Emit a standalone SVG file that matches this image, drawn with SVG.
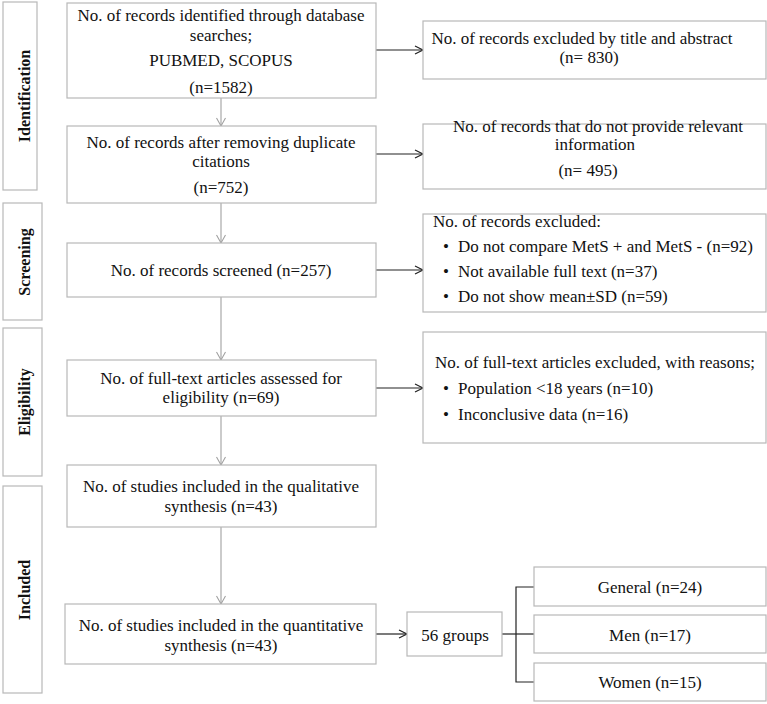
<svg xmlns="http://www.w3.org/2000/svg" width="767" height="704" viewBox="0 0 767 704">
<defs>
<style>
.box{fill:#ffffff;stroke:#b8b8b8;stroke-width:1.2}
.t{font-family:"Liberation Serif","Times New Roman",serif;font-size:17px;fill:#111}
.m{text-anchor:middle}
.lbl{font-family:"Liberation Serif","Times New Roman",serif;font-size:16px;font-weight:bold;fill:#111;text-anchor:middle}
.va{stroke:#a0a0a0;stroke-width:1.1;fill:none}
.ha{stroke:#222;stroke-width:1.2;fill:none}
</style>
<marker id="ag" markerWidth="12" markerHeight="12" refX="9" refY="5" orient="auto" markerUnits="userSpaceOnUse">
<path d="M1,0.5 L9,5 L1,9.5" fill="none" stroke="#a0a0a0" stroke-width="1.1"/>
</marker>
<marker id="ad" markerWidth="12" markerHeight="12" refX="9" refY="5" orient="auto" markerUnits="userSpaceOnUse">
<path d="M1,1 L9,5 L1,9" fill="none" stroke="#222" stroke-width="1.2"/>
</marker>
</defs>
<rect width="767" height="704" fill="#ffffff"/>

<g id="stage-identification">
<rect class="box" x="3" y="2" width="34" height="188"/>
<text class="lbl" transform="translate(30,96) rotate(-90)">Identification</text>
</g>
<g id="stage-screening">
<rect class="box" x="3" y="203" width="39" height="117"/>
<text class="lbl" transform="translate(30,262) rotate(-90)">Screening</text>
</g>
<g id="stage-eligibility">
<rect class="box" x="3" y="328" width="39" height="148"/>
<text class="lbl" transform="translate(30,402) rotate(-90)">Eligibility</text>
</g>
<g id="stage-included">
<rect class="box" x="3" y="486" width="39" height="207"/>
<text class="lbl" transform="translate(30,590) rotate(-90)">Included</text>
</g>

<g id="connectors">
<line class="va" x1="221" y1="98" x2="221" y2="126" marker-end="url(#ag)"/>
<line class="va" x1="221" y1="203" x2="221" y2="243" marker-end="url(#ag)"/>
<line class="va" x1="221" y1="297" x2="221" y2="360" marker-end="url(#ag)"/>
<line class="va" x1="221" y1="416" x2="221" y2="465" marker-end="url(#ag)"/>
<line class="va" x1="221" y1="527" x2="221" y2="604" marker-end="url(#ag)"/>
<line class="ha" x1="376" y1="50" x2="423" y2="50" marker-end="url(#ad)"/>
<line class="ha" x1="376" y1="154" x2="423" y2="154" marker-end="url(#ad)"/>
<line class="ha" x1="376" y1="270" x2="423" y2="270" marker-end="url(#ad)"/>
<line class="ha" x1="376" y1="388" x2="423" y2="388" marker-end="url(#ad)"/>
<line class="ha" x1="376" y1="634" x2="407" y2="634" marker-end="url(#ad)"/>
<line class="ha" x1="502" y1="634" x2="534" y2="634"/>
<path class="ha" d="M534,587 H516 V682 H534"/>
</g>

<g id="n-identified">
<rect class="box" x="67" y="3" width="309" height="95"/>
<text class="t m" x="221" y="21">No. of records identified through database</text>
<text class="t m" x="221" y="41">searches;</text>
<text class="t m" x="221" y="66">PUBMED, SCOPUS</text>
<text class="t m" x="221" y="93">(n=1582)</text>
</g>
<g id="n-duplicates">
<rect class="box" x="67" y="126" width="309" height="77"/>
<text class="t m" x="221" y="148">No. of records after removing duplicate</text>
<text class="t m" x="221" y="167">citations</text>
<text class="t m" x="221" y="193">(n=752)</text>
</g>
<g id="n-screened">
<rect class="box" x="67" y="243" width="309" height="54"/>
<text class="t m" x="221" y="276">No. of records screened (n=257)</text>
</g>
<g id="n-fulltext">
<rect class="box" x="67" y="360" width="309" height="56"/>
<text class="t m" x="221" y="384">No. of full-text articles assessed for</text>
<text class="t m" x="221" y="403">eligibility (n=69)</text>
</g>
<g id="n-qualitative">
<rect class="box" x="67" y="465" width="309" height="62"/>
<text class="t m" x="221" y="492">No. of studies included in the qualitative</text>
<text class="t m" x="221" y="512">synthesis (n=43)</text>
</g>
<g id="n-quantitative">
<rect class="box" x="65" y="604" width="311" height="60"/>
<text class="t m" x="221" y="631">No. of studies included in the quantitative</text>
<text class="t m" x="221" y="651">synthesis (n=43)</text>
</g>

<g id="x-title-abstract">
<rect class="box" x="423" y="21" width="343" height="58"/>
<text class="t m" x="582" y="44">No. of records excluded by title and abstract</text>
<text class="t m" x="589" y="63">(n= 830)</text>
</g>
<g id="x-relevant">
<rect class="box" x="423" y="124" width="343" height="65"/>
<text class="t m" x="598" y="132">No. of records that do not provide relevant</text>
<text class="t m" x="595" y="150">information</text>
<text class="t m" x="588" y="176">(n= 495)</text>
</g>
<g id="x-screened">
<rect class="box" x="423" y="214" width="343" height="98"/>
<text class="t" x="433" y="227">No. of records excluded:</text>
<text class="t" x="443" y="252">•</text>
<text class="t" x="458" y="252">Do not compare MetS + and MetS - (n=92)</text>
<text class="t" x="443" y="277">•</text>
<text class="t" x="458" y="277">Not available full text (n=37)</text>
<text class="t" x="443" y="302">•</text>
<text class="t" x="458" y="302">Do not show mean±SD (n=59)</text>
</g>
<g id="x-fulltext">
<rect class="box" x="423" y="332" width="343" height="111"/>
<text class="t" x="435" y="368">No. of full-text articles excluded, with reasons;</text>
<text class="t" x="443" y="394">•</text>
<text class="t" x="458" y="394">Population &lt;18 years (n=10)</text>
<text class="t" x="443" y="420">•</text>
<text class="t" x="458" y="420">Inconclusive data (n=16)</text>
</g>

<g id="n-groups">
<rect class="box" x="407" y="612" width="95" height="44"/>
<text class="t m" x="455" y="641">56 groups</text>
</g>
<g id="n-general">
<rect class="box" x="534" y="567" width="232" height="39"/>
<text class="t m" x="650" y="593">General (n=24)</text>
</g>
<g id="n-men">
<rect class="box" x="534" y="615" width="232" height="38"/>
<text class="t m" x="650" y="641">Men (n=17)</text>
</g>
<g id="n-women">
<rect class="box" x="534" y="663" width="232" height="38"/>
<text class="t m" x="650" y="688">Women (n=15)</text>
</g>
</svg>
